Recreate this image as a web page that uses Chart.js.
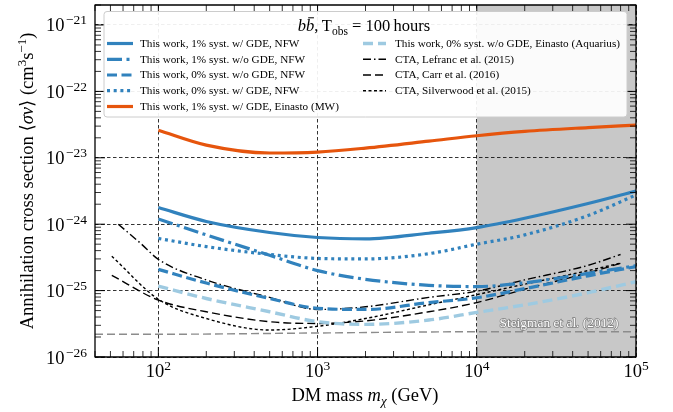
<!DOCTYPE html>
<html>
<head>
<meta charset="utf-8">
<script src="https://cdn.jsdelivr.net/npm/chart.js@4.4.1/dist/chart.umd.min.js"></script>
<style>
  body { margin: 0; background: #fff; }
  canvas { display: block; }
</style>
</head>
<body>
<canvas id="chartjs-0" width="673" height="412"></canvas>
<script>
"use strict";

// DM mass grid (GeV) shared by the "This work" curves
const massGrid = [100, 200, 500, 1000, 2000, 5000, 1e4, 2e4, 5e4, 1e5];

// <sigma v> sensitivities, cm^3 s^-1
const nfw1GDE    = [1.78e-24, 1.1e-24, 7.5e-25, 6.3e-25, 6.0e-25, 7.3e-25, 8.9e-25, 1.23e-24, 2.05e-24, 3.16e-24];
const nfw1NoGDE  = [1.2e-24, 6.9e-25, 3.4e-25, 2.0e-25, 1.48e-25, 1.2e-25, 1.15e-25, 1.31e-25, 1.82e-25, 2.37e-25];
const nfw0NoGDE  = [2.09e-25, 1.3e-25, 7.6e-26, 5.4e-26, 5.2e-26, 6.6e-26, 7.8e-26, 1.07e-25, 1.67e-25, 2.3e-25];
const nfw0GDE    = [6.1e-25, 4.6e-25, 3.5e-25, 3.05e-25, 3.0e-25, 3.6e-25, 5.0e-25, 6.9e-25, 1.35e-24, 2.75e-24];
const mw1GDE     = [2.6e-23, 1.55e-23, 1.18e-23, 1.22e-23, 1.4e-23, 1.78e-23, 2.15e-23, 2.5e-23, 2.85e-23, 3.1e-23];
const aq0NoGDE   = [1.17e-25, 7.6e-26, 4.8e-26, 3.4e-26, 3.1e-26, 3.6e-26, 4.7e-26, 6.1e-26, 9.3e-26, 1.36e-25];

// CTA projections from the literature
const lefrancMass = [56, 77, 100, 200, 500, 1000, 2000, 5000, 1e4, 2e4, 5e4, 8e4];
const lefrancSigv = [1.0e-24, 5.2e-25, 2.95e-25, 1.45e-25, 7.9e-26, 5.2e-26, 5.7e-26, 7.9e-26, 9.8e-26, 1.45e-25, 2.4e-25, 3.5e-25];
const carrMass = [51, 100, 200, 500, 1000, 2000, 5000, 1e4, 2e4, 5e4, 8e4];
const carrSigv = [1.7e-25, 7.2e-26, 4.8e-26, 3.4e-26, 3.2e-26, 3.5e-26, 4.8e-26, 6.6e-26, 1.05e-25, 1.85e-25, 2.57e-25];
const silverwoodMass = [51, 100, 200, 500, 1000, 2000, 5000, 1e4, 2e4, 5e4, 8e4];
const silverwoodSigv = [3.3e-25, 7.4e-26, 3.8e-26, 2.55e-26, 2.9e-26, 3.8e-26, 6.1e-26, 8.7e-26, 1.25e-25, 2.0e-25, 2.6e-25];

// thermal relic cross section
const steigmanMass = [40, 100, 1000, 1e4, 1e5];
const steigmanSigv = [2.2e-26, 2.2e-26, 2.3e-26, 2.4e-26, 2.4e-26];

const xTickValues = [1e2, 1e3, 1e4, 1e5];
const yTickValues = [1e-26, 1e-25, 1e-24, 1e-23, 1e-22, 1e-21];
const shadeFrom = 1e4;

const SERIF = '"Liberation Serif", "DejaVu Serif", serif';
const BLUE = "#3182bd", LIGHTBLUE = "#9ecae1", ORANGE = "#e6550d";

function pts(xs, ys) {
    return xs.map((x, i) => ({ x: x, y: ys[i] }));
}

function line(label, xs, ys, color, width, dash, order) {
    return {
        label: label,
        data: pts(xs, ys),
        showLine: true,
        borderColor: color,
        borderWidth: width,
        borderDash: dash,
        borderCapStyle: "butt",
        pointRadius: 0,
        fill: false,
        cubicInterpolationMode: "monotone",
        order: order
    };
}

let datasets = [
    line("This work, 1% syst. w/ GDE, NFW", massGrid, nfw1GDE, BLUE, 3.2, [], 1),
    line("This work, 1% syst. w/o GDE, NFW", massGrid, nfw1NoGDE, BLUE, 3.2, [15, 4.5, 3, 4.5], 1),
    line("This work, 0% syst. w/o GDE, NFW", massGrid, nfw0NoGDE, BLUE, 3.2, [10, 4.5], 1),
    line("This work, 0% syst. w/ GDE, NFW", massGrid, nfw0GDE, BLUE, 3.2, [3, 3.7], 1),
    line("This work, 1% syst. w/ GDE, Einasto (MW)", massGrid, mw1GDE, ORANGE, 3.2, [], 1),
    line("This work, 0% syst. w/o GDE, Einasto (Aquarius)", massGrid, aq0NoGDE, LIGHTBLUE, 3.4, [10, 5], 2),
    line("CTA, Lefranc et al. (2015)", lefrancMass, lefrancSigv, "#000", 1.4, [8, 3, 1.5, 3], 5),
    line("CTA, Carr et al. (2016)", carrMass, carrSigv, "#000", 1.4, [8, 4], 5),
    line("CTA, Silverwood et al. (2015)", silverwoodMass, silverwoodSigv, "#000", 1.4, [3, 2.5], 5),
    line("Steigman et al. (2012)", steigmanMass, steigmanSigv, "#8c8c8c", 1.4, [8, 4], 6)
];

// legend layout: dataset index per row, two columns
const legendLeft = [0, 1, 2, 3, 4];
const legendRight = [5, 6, 7, 8];

function fontOf(p) {
    return (p.italic ? "italic " : "") + p.size + "px " + SERIF;
}

// draws a run of text pieces (super/subscripts via dy), returns width
function drawRich(ctx, parts, x, y, align) {
    let total = 0;
    parts.forEach(p => {
        ctx.font = fontOf(p);
        p.w = ctx.measureText(p.t).width + (p.gap || 0);
        total += p.w;
    });
    let cx = x;
    if (align === "center") cx = x - total / 2;
    if (align === "right") cx = x - total;
    ctx.textAlign = "left";
    ctx.textBaseline = "alphabetic";
    parts.forEach(p => {
        ctx.font = fontOf(p);
        ctx.fillText(p.t, cx + (p.gap || 0), y + (p.dy || 0));
        if (p.bar) {
            ctx.beginPath();
            ctx.lineWidth = 1;
            ctx.moveTo(cx + p.w * 0.25, y - p.size * 0.8);
            ctx.lineTo(cx + p.w * 0.95, y - p.size * 0.8);
            ctx.stroke();
        }
        cx += p.w;
    });
    return total;
}

function powerLabel(exp) {
    if (exp < 0) {
        return [{ t: "10", size: 18.5 }, { t: "\u2212" + (-exp), size: 13.5, dy: -7, gap: 1.5 }];
    }
    return [{ t: "10", size: 18.5 }, { t: String(exp), size: 13.5, dy: -7 }];
}

const decor = {
    id: "decor",
    beforeDraw(chart) {
        const ctx = chart.ctx, a = chart.chartArea, x = chart.scales.x;
        ctx.save();
        ctx.fillStyle = "#fff";
        ctx.fillRect(0, 0, chart.width, chart.height);
        const x0 = x.getPixelForValue(shadeFrom);
        ctx.fillStyle = "#c8c8c8";
        ctx.fillRect(x0, a.top, a.right - x0, a.bottom - a.top);
        ctx.restore();
    },
    afterDatasetsDraw(chart) {
        const ctx = chart.ctx, a = chart.chartArea;
        const xs = chart.scales.x, ys = chart.scales.y;
        ctx.save();

        // relic label
        ctx.font = "13.4px " + SERIF;
        ctx.textAlign = "center";
        ctx.textBaseline = "alphabetic";
        ctx.lineJoin = "round";
        ctx.lineWidth = 1.4;
        ctx.strokeStyle = "#7a7a7a";
        ctx.strokeText("Steigman et al. (2012)", 559, 327);
        ctx.fillStyle = "#fff";
        ctx.fillText("Steigman et al. (2012)", 559, 327);

        // inward ticks on all four sides
        ctx.strokeStyle = "#000";
        ctx.setLineDash([]);
        for (let n = 1; n <= 5; n++) {
            for (let k = 1; k <= 9; k++) {
                const v = k * Math.pow(10, n);
                if (v < xs.min || v > xs.max) continue;
                const px = xs.getPixelForValue(v);
                const len = k === 1 ? 10 : 6;
                ctx.lineWidth = k === 1 ? 1 : 0.8;
                ctx.beginPath();
                ctx.moveTo(px, a.bottom); ctx.lineTo(px, a.bottom - len);
                ctx.moveTo(px, a.top); ctx.lineTo(px, a.top + len);
                ctx.stroke();
            }
        }
        for (let n = -26; n <= -21; n++) {
            for (let k = 1; k <= 9; k++) {
                const v = k * Math.pow(10, n);
                if (v < ys.min * 0.999 || v > ys.max) continue;
                const py = ys.getPixelForValue(v);
                const len = k === 1 ? 10 : 6;
                ctx.lineWidth = k === 1 ? 1 : 0.8;
                ctx.beginPath();
                ctx.moveTo(a.left, py); ctx.lineTo(a.left + len, py);
                ctx.moveTo(a.right, py); ctx.lineTo(a.right - len, py);
                ctx.stroke();
            }
        }

        // frame
        ctx.lineWidth = 1.3;
        ctx.strokeRect(a.left, a.top, a.right - a.left, a.bottom - a.top);

        // tick labels
        ctx.fillStyle = "#000";
        xTickValues.forEach(v => {
            drawRich(ctx, powerLabel(Math.round(Math.log10(v))), xs.getPixelForValue(v), 377, "center");
        });
        yTickValues.forEach(v => {
            drawRich(ctx, powerLabel(Math.round(Math.log10(v))), 87, ys.getPixelForValue(v) + 6.5, "right");
        });

        // axis titles
        drawRich(ctx, [
            { t: "DM mass ", size: 18.5 },
            { t: "m", size: 18.5, italic: true },
            { t: "\u03c7", size: 13, italic: true, dy: 4 },
            { t: " (GeV)", size: 18.5 }
        ], 365, 401, "center");

        ctx.save();
        ctx.translate(33, (a.top + a.bottom) / 2);
        ctx.rotate(-Math.PI / 2);
        drawRich(ctx, [
            { t: "Annihilation cross section ", size: 18.5 },
            { t: "\u27e8", size: 18.5 },
            { t: "\u03c3v", size: 18.5, italic: true },
            { t: "\u27e9 (cm", size: 18.5 },
            { t: "3", size: 13, dy: -7 },
            { t: "s", size: 18.5 },
            { t: "\u22121", size: 13, dy: -7 },
            { t: ")", size: 18.5 }
        ], 0, 0, "center");
        ctx.restore();

        // legend
        const bx = 104, by = 11.5, bw = 523, bh = 105.5;
        ctx.beginPath();
        ctx.roundRect(bx, by, bw, bh, 3);
        ctx.fillStyle = "rgba(255,255,255,0.92)";
        ctx.fill();
        ctx.lineWidth = 1;
        ctx.strokeStyle = "#cccccc";
        ctx.stroke();

        ctx.fillStyle = "#000";
        ctx.strokeStyle = "#000";
        drawRich(ctx, [
            { t: "b", size: 16.5, italic: true },
            { t: "b", size: 16.5, italic: true, bar: true },
            { t: ",\u2009T", size: 16.5 },
            { t: "obs", size: 11.5, dy: 3.5 },
            { t: " = 100\u2009hours", size: 16.5 }
        ], 364, 31, "center");

        const rowY = [43.5, 59.3, 75, 90.7, 106.5];
        function entry(idx, row, x0, x1, tx) {
            const ds = chart.data.datasets[idx];
            const y = rowY[row];
            ctx.save();
            ctx.strokeStyle = ds.borderColor;
            ctx.lineWidth = ds.borderWidth;
            ctx.lineCap = "butt";
            ctx.setLineDash(ds.borderDash);
            ctx.beginPath();
            ctx.moveTo(x0, y);
            ctx.lineTo(x1, y);
            ctx.stroke();
            ctx.restore();
            ctx.font = "11.2px " + SERIF;
            ctx.fillStyle = "#000";
            ctx.textAlign = "left";
            ctx.textBaseline = "middle";
            ctx.fillText(ds.label, tx, y + 0.5);
        }
        legendLeft.forEach((idx, r) => entry(idx, r, 107, 133, 140));
        legendRight.forEach((idx, r) => entry(idx, r, 363, 386, 395));

        ctx.restore();
    }
};

const ctx = document.getElementById("chartjs-0");
const myChart = new Chart(ctx, {
    type: "scatter",
    data: { datasets: datasets },
    options: {
        responsive: false,
        animation: false,
        layout: { padding: { top: 5, right: 37, left: 0, bottom: 0 } },
        scales: {
            x: {
                type: "logarithmic",
                min: 40,
                max: 1e5,
                afterBuildTicks: s => { s.ticks = xTickValues.map(v => ({ value: v })); },
                afterFit: s => { s.height = 55; },
                ticks: { display: false },
                grid: { color: "#000", lineWidth: 0.8, drawTicks: false },
                border: { display: false, dash: [3.5, 2.5] }
            },
            y: {
                type: "logarithmic",
                min: 1e-26,
                max: 2e-21,
                afterBuildTicks: s => { s.ticks = yTickValues.map(v => ({ value: v })); },
                afterFit: s => { s.width = 95; },
                ticks: { display: false },
                grid: { color: "#000", lineWidth: 0.8, drawTicks: false },
                border: { display: false, dash: [3.5, 2.5] }
            }
        },
        plugins: {
            legend: { display: false },
            tooltip: { enabled: false }
        }
    },
    plugins: [decor]
});
</script>
</body>
</html>
